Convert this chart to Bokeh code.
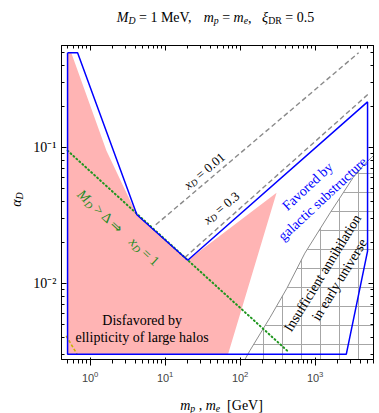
import math
from bokeh.plotting import figure
from bokeh.layouts import column, row
from bokeh.models import Range1d, FixedTicker, LogAxis, Label, CustomJSTickFormatter
from bokeh.embed import file_html
from bokeh.resources import INLINE

# ---------------- data ----------------
# blue outline: region favored by galactic substructure
blue_x = [0.5, 0.68, 4.2, 20, 5000, 5000, 2600, 0.5, 0.5]
blue_y = [0.5, 0.5, 0.032, 0.0148, 0.217, 0.0173, 0.003, 0.003, 0.5]
# pink: disfavored by ellipticity of large halos
pink_x = [0.5, 0.56, 1.65, 4.2, 20, 306, 69, 0.5]
pink_y = [0.5, 0.5, 0.095, 0.032, 0.0148, 0.0466, 0.003, 0.003]
# hatched: insufficient annihilation in early universe (boundary curve)
hatch_x = [105, 135, 250, 420, 730, 1580, 3200, 4600, 6500, 20000, 20000, 105]
hatch_y = [0.0025, 0.0032, 0.0056, 0.0092, 0.0167, 0.033, 0.060, 0.076, 0.091, 0.091, 0.0025, 0.0025]
# x_D contours (dashed gray)
xd001_x = [7.5, 3800]
xd001_y = [0.027, 0.5]
xd03_x = [18.3, 5200]
xd03_y = [0.0155, 0.25]
# M_D > Delta boundary (green dotted)
green_x = [0.5, 450]
green_y = [0.095, 0.0031]
# small yellow dotted segment
yellow_x = [0.48, 0.67]
yellow_y = [0.0041, 0.003]

x_major = [1, 10, 100, 1000]
x_major_labels = ["1", "10\u00b9", "10\u00b2", "10\u00b3"]
y_major = [0.01, 0.1]
y_major_labels = ["10\u207b\u00b2", "10\u207b\u00b9"]

XR = (0.415, 6000)
YR = (0.00275, 0.565)

x_minor = [m * 10.0 ** k for k in range(-1, 4) for m in range(2, 10) if XR[0] <= m * 10.0 ** k <= XR[1]]
y_minor = [m * 10.0 ** k for k in range(-3, 0) for m in range(2, 10) if YR[0] <= m * 10.0 ** k <= YR[1]]

SERIF = "Liberation Serif"

# page geometry
W = 379
TITLE_H = 30
XLAB_H = 28
YLAB_W = 25
MAIN_H = 413 - TITLE_H - XLAB_H
MAIN_W = W - YLAB_W

p = figure(width=MAIN_W, height=MAIN_H, x_axis_type="log", y_axis_type="log",
           x_range=Range1d(*XR), y_range=Range1d(*YR),
           output_backend="svg", toolbar_location=None)
p.min_border_left = 36
p.min_border_right = 6
p.min_border_top = 15
p.min_border_bottom = MAIN_H - 15 - 314
p.grid.visible = False
p.outline_line_color = "black"
p.outline_line_width = 1
p.background_fill_color = "white"
p.border_fill_color = "white"

top_ax = LogAxis()
right_ax = LogAxis()
p.add_layout(top_ax, "above")
p.add_layout(right_ax, "right")

FMT_CODE = ("const i = t.findIndex(v => Math.abs(v - tick) <= 1e-6 * v);"
            "return i >= 0 ? l[i] : '';")

def style_axis(ax, ticks, minor, labels, show, standoff):
    ax.ticker = FixedTicker(ticks=ticks, minor_ticks=minor)
    ax.major_tick_in = 5
    ax.major_tick_out = 0
    ax.minor_tick_in = 3
    ax.minor_tick_out = 0
    ax.axis_line_color = "black"
    ax.major_tick_line_color = "black"
    ax.minor_tick_line_color = "black"
    ax.major_label_text_font = SERIF
    ax.major_label_text_font_size = "14px" if show else "0px"
    ax.major_label_text_color = "black"
    ax.major_label_standoff = standoff
    ax.formatter = CustomJSTickFormatter(args=dict(t=ticks, l=(labels if show else [""] * len(ticks))),
                                         code=FMT_CODE)

style_axis(p.xaxis[0], x_major, x_minor, x_major_labels, True, 0)
style_axis(p.yaxis[0], y_major, y_minor, y_major_labels, True, 5)
style_axis(top_ax, x_major, x_minor, x_major_labels, False, 2)
style_axis(right_ax, y_major, y_minor, y_major_labels, False, 2)
p.yaxis[0].major_label_orientation = "horizontal"

# ---------------- regions & lines ----------------
p.patch(pink_x, pink_y, fill_color="#ffb4b4", line_color=None)
p.patch(hatch_x, hatch_y, fill_color=None, line_color="#8c8c8c", line_width=1,
        hatch_pattern="+", hatch_color="#a6a6a6", hatch_scale=19, hatch_weight=1)
p.line(xd001_x, xd001_y, line_color="#8a8a8a", line_width=1.4, line_dash="5 3")
p.line(xd03_x, xd03_y, line_color="#8a8a8a", line_width=1.4, line_dash="5 3")
p.line(green_x, green_y, line_color="#1e961e", line_width=2, line_dash="1 3", line_cap="round")
p.line(yellow_x, yellow_y, line_color="#c8b400", line_width=1.6, line_dash="3 2")
p.line(blue_x, blue_y, line_color="#0000ff", line_width=1.5)

# ---------------- text-only strips around the plot ----------------
def strip(w, h):
    f = figure(width=w, height=h, x_range=Range1d(0, w), y_range=Range1d(0, h),
               x_axis_type=None, y_axis_type=None, output_backend="svg",
               toolbar_location=None, min_border=0)
    f.min_border_left = f.min_border_right = f.min_border_top = f.min_border_bottom = 0
    f.outline_line_color = None
    f.grid.visible = False
    f.background_fill_color = "white"
    f.border_fill_color = "white"
    return f

title_fig = strip(W, TITLE_H)
ylab_fig = strip(YLAB_W, MAIN_H)
xlab_fig = strip(W, XLAB_H)

# ---------------- text helpers ----------------
W_R = {' ': 250, '=': 564, ',': 250, '.': 250, 'M': 889, 'e': 444, 'V': 722, 'D': 722, 'R': 667,
       '[': 333, ']': 333, 'G': 722, '>': 564, '\u0394': 612, '\u21d2': 1000, 'F': 556, 'a': 444,
       'v': 500, 'o': 500, 'r': 333, 'd': 500, 'b': 500, 'y': 500, 'g': 500, 'l': 278, 'c': 444,
       't': 278, 'i': 278, 's': 389, 'u': 500, 'I': 333, 'n': 500, 'f': 333, 'h': 500, 'p': 500,
       'x': 500}
W_I = {'M': 833, 'm': 722, 'p': 500, 'e': 444, 'x': 444, '\u03be': 440, '\u03b1': 520, 'D': 722}

def tw(t, it):
    tab = W_I if it else W_R
    return sum(tab.get(c, W_R.get(c, 500)) for c in t) / 1000.0

# page px of each figure's frame left / bottom edge
ORIG = {
    "main": (p, YLAB_W + 36, TITLE_H + 15 + 314),
    "title": (title_fig, 0, TITLE_H),
    "ylab": (ylab_fig, 0, TITLE_H + MAIN_H),
    "xlab": (xlab_fig, 0, 413),
}

def rich(where, parts, cx, cy, ang_deg, size, color, sub_shift=0.22):
    fig, FL, FB = ORIG[where]
    th = math.radians(ang_deg)
    d = (math.cos(th), math.sin(th))
    n = (math.sin(th), -math.cos(th))
    items = []
    for t, it, sub in parts:
        fs = size * 0.7 if sub else size
        items.append((t, it, sub, fs, tw(t, it) * fs))
    total = sum(w for *_, w in items)
    ux, uy = cx - FL, FB - cy
    sx = ux - d[0] * total / 2 + n[0] * 0.33 * size
    sy = uy - d[1] * total / 2 + n[1] * 0.33 * size
    pos = 0.0
    for t, it, sub, fs, w in items:
        lead = len(t) - len(t.lstrip(' '))
        s = t.strip(' ')
        if s:
            off = pos + lead * 0.25 * fs
            shift = sub_shift * size if sub else 0.0
            x = sx + d[0] * off + n[0] * shift
            y = sy + d[1] * off + n[1] * shift
            fig.add_layout(Label(x=x, y=y, x_units="screen", y_units="screen", text=s, angle=th,
                                 text_font=SERIF, text_font_style="italic" if it else "normal",
                                 text_font_size=f"{fs:.1f}px", text_color=color,
                                 text_align="left", text_baseline="alphabetic"))
        pos += w

N, I, S, SI = (False, False), (True, False), (False, True), (True, True)
def P(t, k):
    return (t, k[0], k[1])

# title
rich("title", [P("M", I), P("D", SI), P(" = 1 MeV,   ", N), P("m", I), P("p", SI), P(" = ", N),
               P("m", I), P("e", SI), P(",   ", N), P("\u03be", I), P("DR", S), P(" = 0.5", N)],
     215, 12.5, 0, 14, "black")
# axis labels
rich("ylab", [P("\u03b1", I), P("D", SI)], 11.5, 225, 90, 14, "black", sub_shift=0.18)
rich("xlab", [P("m", I), P("p", SI), P(" , ", N), P("m", I), P("e", SI), P("  [GeV]", N)],
     221, 400, 0, 14, "black")
# x_D labels
rich("main", [P("x", I), P("D", SI), P(" = 0.01", N)], 201, 167, 40, 13, "black")
rich("main", [P("x", I), P("D", SI), P(" = 0.3", N)], 218, 204, 40, 13, "black")
# favored
rich("main", [P("Favored by", N)], 304, 182.5, 43, 14, "#0000ff")
rich("main", [P("galactic substructure", N)], 319, 195, 43, 14, "#0000ff")
# insufficient annihilation
rich("main", [P("Insufficient annihilation", N)], 318.3, 270, 58.5, 14, "black")
rich("main", [P("in early universe", N)], 335, 276.7, 58.5, 14, "black")
# disfavored
rich("main", [P("Disfavored by", N)], 141.7, 315, 0, 14, "black")
rich("main", [P("ellipticity of large halos", N)], 141.7, 332, 0, 14, "black")
# green
rich("main", [P("M", I), P("D", SI), P(" > \u0394  \u21d2  ", N), P("x", I), P("D", SI), P(" = 1", N)],
     121, 224, -42.5, 14, "#228b22")

layout = column(title_fig, row(ylab_fig, p, spacing=0), xlab_fig, spacing=0)
open("out.html", "w").write(file_html(layout, INLINE))
